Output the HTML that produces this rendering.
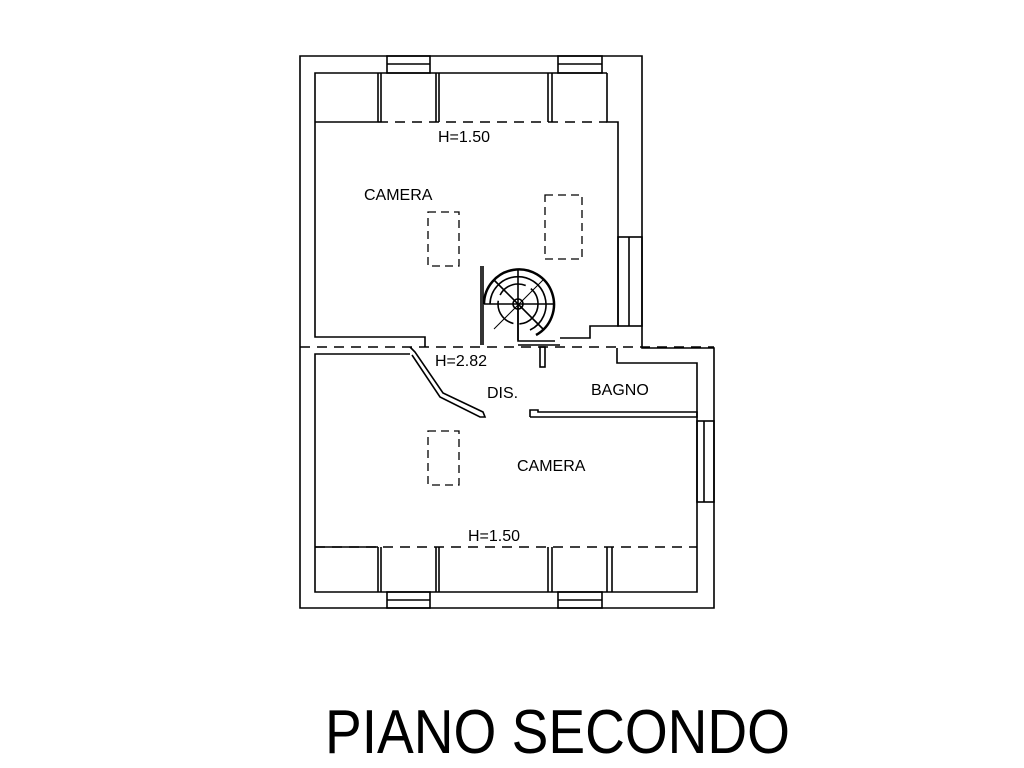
<!DOCTYPE html>
<html><head><meta charset="utf-8"><style>
html,body{margin:0;padding:0;background:#fff;}
svg{display:block}
text{font-family:"Liberation Sans",sans-serif;fill:#000}
</style></head><body>
<svg width="1024" height="768" viewBox="0 0 1024 768" xmlns="http://www.w3.org/2000/svg">
<g fill="none" stroke="#000" stroke-width="1.6">
<!-- outer walls -->
<polyline points="300,347 300,56 642,56 642,348 714,348 714,608 300,608 300,347"/>
<!-- upper room inner -->
<polyline points="607,73 315,73 315,337 425,337 425,347"/>
<polyline points="607,73 607,122 618,122 618,326 590,326 590,338 560,338"/>
<line x1="315" y1="122" x2="378" y2="122"/>
<line x1="378" y1="122" x2="607" y2="122" stroke-dasharray="10,7"/>
<!-- top strip verticals -->
<line x1="378" y1="73" x2="378" y2="122"/><line x1="381" y1="73" x2="381" y2="122"/>
<line x1="436" y1="73" x2="436" y2="122"/><line x1="439" y1="73" x2="439" y2="122"/>
<line x1="548" y1="73" x2="548" y2="122"/><line x1="552" y1="73" x2="552" y2="122"/>
<!-- top windows -->
<rect x="387" y="56" width="43" height="17"/><line x1="387" y1="64" x2="430" y2="64"/>
<rect x="558" y="56" width="44" height="17"/><line x1="558" y1="64" x2="602" y2="64"/>
<!-- right window upper -->
<rect x="618" y="237" width="24" height="89"/><line x1="629" y1="237" x2="629" y2="326"/>
<!-- separator dashed -->
<line x1="300" y1="347" x2="714" y2="347" stroke-dasharray="10,7"/>
<!-- lower room -->
<polyline points="410,354 315,354 315,592 697,592 697,363 617,363 617,348"/>
<line x1="315" y1="547" x2="697" y2="547" stroke-dasharray="10,7"/>
<line x1="315" y1="547" x2="378" y2="547"/>
<line x1="378" y1="547" x2="378" y2="592"/><line x1="381" y1="547" x2="381" y2="592"/>
<line x1="436" y1="547" x2="436" y2="592"/><line x1="439" y1="547" x2="439" y2="592"/>
<line x1="548" y1="547" x2="548" y2="592"/><line x1="552" y1="547" x2="552" y2="592"/>
<line x1="607" y1="547" x2="607" y2="592"/><line x1="612" y1="547" x2="612" y2="592"/>
<rect x="387" y="592" width="43" height="16"/><line x1="387" y1="600" x2="430" y2="600"/>
<rect x="558" y="592" width="44" height="16"/><line x1="558" y1="600" x2="602" y2="600"/>
<rect x="697" y="421" width="17" height="81"/><line x1="704" y1="421" x2="704" y2="502"/>
<!-- bagno wall -->
<polyline points="530,417 530,410 538,410 538,412 697,412 697,417 530,417"/>
<rect x="540" y="347" width="5" height="20"/>
<!-- diagonal door wall -->
<polyline points="410,347 415,352 443,393 483,412 485,417 480,417 440,397 412,355"/>
<!-- stair -->
<line x1="481" y1="266" x2="481" y2="345"/><line x1="483" y1="266" x2="483" y2="345"/>
<path d="M484 304 A35 35 0 1 1 536 335" stroke-width="2.5"/>
<path d="M490 304 A28 28 0 1 1 530 330"/>
<circle cx="518" cy="304" r="5"/>
<circle cx="518" cy="304" r="20" stroke-dasharray="30,6"/>
<line x1="484" y1="304" x2="553" y2="304"/>
<line x1="518" y1="270" x2="518" y2="340"/>
<line x1="494" y1="280" x2="543" y2="329"/>
<line x1="543" y1="280" x2="494" y2="329" stroke-width="1"/>
<polyline points="518,304 518,341 555,341"/>
<line x1="518" y1="345" x2="560" y2="345"/>
</g>
<!-- beds dashed -->
<g fill="none" stroke="#000" stroke-width="1.3" stroke-dasharray="8,5">
<rect x="428" y="212" width="31" height="54"/>
<rect x="545" y="195" width="37" height="64"/>
<rect x="428" y="431" width="31" height="54"/>
</g>
<g font-size="16">
<text x="438" y="142">H=1.50</text>
<text x="364" y="200">CAMERA</text>
<text x="435" y="366">H=2.82</text>
<text x="487" y="398">DIS.</text>
<text x="591" y="395">BAGNO</text>
<text x="517" y="471">CAMERA</text>
<text x="468" y="541">H=1.50</text>
</g>
<text x="325" y="753" font-size="62" textLength="465" lengthAdjust="spacingAndGlyphs">PIANO SECONDO</text>
</svg>
</body></html>
